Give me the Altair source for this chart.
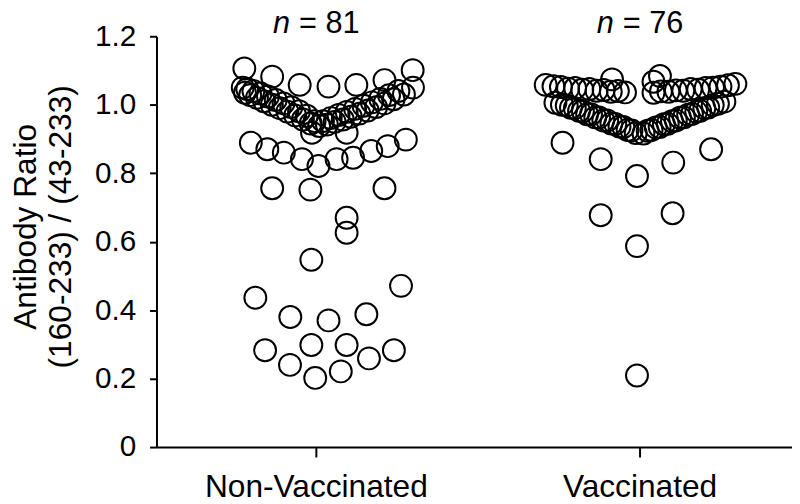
import altair as alt
import pandas as pd

groups = ["Non-Vaccinated", "Vaccinated"]
counts = [81, 76]
y_ticks = [0, 0.2, 0.4, 0.6, 0.8, 1.0, 1.2]

# Non-vaccinated: antibody ratio and horizontal swarm spread (category units)
nonvacc_ratio = [
    1.106, 1.082, 1.058, 1.053, 1.058, 1.072, 1.101,
    0.918, 0.918,
    0.889, 0.870, 0.860, 0.841, 0.821, 0.841, 0.845, 0.865, 0.879, 0.898,
    0.756, 0.752, 0.756,
    0.670, 0.626, 0.547, 0.471, 0.436, 0.380, 0.370, 0.388,
    0.298, 0.298, 0.283, 0.283, 0.240, 0.259, 0.221, 0.202,
    1.050, 1.035, 1.046, 1.028, 1.040, 1.020, 1.033, 1.010, 1.024, 1.000, 1.014,
    0.990, 1.004, 0.980, 0.993, 0.969, 0.981, 0.957, 0.968, 0.945, 0.952,
    0.938, 0.952, 0.942, 0.961, 0.950, 0.970, 0.957, 0.979, 0.965, 0.988, 0.974,
    0.997, 0.983, 1.007, 0.993, 1.017, 1.004, 1.028, 1.016, 1.040, 1.030, 1.050,
]
nonvacc_spread = [
    -0.221, -0.135, -0.050, 0.039, 0.125, 0.212, 0.299,
    -0.012, 0.095,
    -0.201, -0.150, -0.099, -0.043, 0.008, 0.064, 0.115, 0.171, 0.222, 0.278,
    -0.135, -0.017, 0.212,
    0.095, 0.095, -0.014, 0.263, -0.187, -0.079, 0.039, 0.156,
    -0.014, 0.095, -0.157, 0.241, -0.080, 0.164, 0.077, -0.002,
    -0.226, -0.219, -0.212, -0.203, -0.193, -0.182, -0.171, -0.160, -0.148, -0.136, -0.124,
    -0.112, -0.100, -0.088, -0.076, -0.064, -0.052, -0.040, -0.028, -0.016, -0.004,
    0.010, 0.022, 0.034, 0.046, 0.058, 0.070, 0.083, 0.095, 0.108, 0.121, 0.134,
    0.147, 0.160, 0.173, 0.186, 0.199, 0.212, 0.226, 0.240, 0.255, 0.272, 0.300,
]

# Vaccinated
vacc_ratio = [
    0.889, 0.841, 0.792, 0.831, 0.870, 0.677, 0.683, 0.587, 0.209,
    1.074, 1.067, 1.084,
    0.917, 0.925, 0.926, 0.935, 0.936, 0.944, 0.945, 0.954, 0.954, 0.963,
    0.963, 0.972, 0.972, 0.981, 0.982, 0.990, 0.991, 0.998, 1.000, 1.006,
    0.916, 0.924, 0.926, 0.934, 0.935, 0.943, 0.944, 0.952, 0.954, 0.962,
    0.963, 0.971, 0.973, 0.980, 0.982, 0.990, 0.992, 0.999, 1.003, 1.009,
    1.036, 1.040, 1.038, 1.043, 1.041, 1.046, 1.044, 1.049, 1.047, 1.052, 1.054, 1.058,
    1.035, 1.039, 1.038, 1.042, 1.041, 1.046, 1.044, 1.049, 1.050, 1.053, 1.057, 1.061,
]
vacc_spread = [
    -0.238, -0.120, -0.008, 0.104, 0.221, -0.120, 0.102, -0.008, -0.008,
    -0.085, 0.043, 0.063,
    -0.012, -0.025, -0.037, -0.050, -0.062, -0.075, -0.087, -0.100, -0.112, -0.125,
    -0.137, -0.150, -0.162, -0.175, -0.187, -0.200, -0.212, -0.225, -0.240, -0.260,
    0.012, 0.025, 0.037, 0.050, 0.062, 0.075, 0.087, 0.100, 0.112, 0.125,
    0.137, 0.150, 0.162, 0.175, 0.187, 0.200, 0.212, 0.226, 0.242, 0.262,
    -0.045, -0.067, -0.089, -0.111, -0.133, -0.155, -0.177, -0.199, -0.221, -0.243, -0.266, -0.290,
    0.043, 0.066, 0.089, 0.112, 0.135, 0.158, 0.181, 0.204, 0.227, 0.250, 0.273, 0.296,
]

rows = []
for gi, (ratios, spreads) in enumerate([(nonvacc_ratio, nonvacc_spread), (vacc_ratio, vacc_spread)]):
    for v, s in zip(ratios, spreads):
        rows.append({"group": groups[gi], "pos": gi + s, "ratio": v})
df = pd.DataFrame(rows)

ndf = pd.DataFrame({"pos": [0, 1], "label": ["= %d" % c for c in counts], "n": ["n", "n"]})

FONT = "Liberation Sans"
xscale = alt.Scale(domain=[-0.4924, 1.4709], nice=False, zero=False)
yscale = alt.Scale(domain=[0, 1.2], nice=False)

points = alt.Chart(df).mark_point(
    shape="circle", filled=False, size=490, strokeWidth=2, color="black", opacity=1
).encode(
    x=alt.X("pos:Q", scale=xscale, axis=alt.Axis(
        values=[0, 1], title=None, grid=False,
        labelExpr="datum.value == 0 ? 'Non-Vaccinated' : 'Vaccinated'",
        tickSize=10, tickWidth=2, domainWidth=2, domainColor="black", tickColor="black",
        labelFontSize=32, labelFont=FONT, labelColor="black", labelPadding=15, labelLimit=0,
    )),
    y=alt.Y("ratio:Q", scale=yscale, axis=alt.Axis(
        values=y_ticks, grid=False,
        labelExpr="datum.value == 0 ? '0' : format(datum.value, '.1f')",
        tickSize=7, tickWidth=2, domainWidth=2, domainColor="black", tickColor="black",
        labelFontSize=30, labelFont=FONT, labelColor="black", labelPadding=14,
        title=["Antibody Ratio", "(160-233) / (43-233)"],
        titleFontSize=32, titleFont=FONT, titleFontWeight="normal", titleColor="black",
        titleX=-122, titleY=192, titleBaseline="alphabetic", titleLineHeight=35,
    )),
)

n_italic = alt.Chart(ndf).mark_text(
    align="right", baseline="alphabetic", fontSize=31, font=FONT, fontStyle="italic",
    dx=-26, color="black",
).encode(x=alt.X("pos:Q", scale=xscale), y=alt.value(-3), text="n:N")

n_rest = alt.Chart(ndf).mark_text(
    align="left", baseline="alphabetic", fontSize=31, font=FONT, dx=-17, color="black",
).encode(x=alt.X("pos:Q", scale=xscale), y=alt.value(-3), text="label:N")

chart = alt.layer(points, n_italic, n_rest).properties(
    width=642, height=415,
    autosize=alt.AutoSizeParams(type="none"),
    padding={"left": 150, "top": 26, "right": 0, "bottom": 60},
).configure_view(stroke=None)

chart.save("out.html", embed_options={"renderer": "svg", "actions": False})
